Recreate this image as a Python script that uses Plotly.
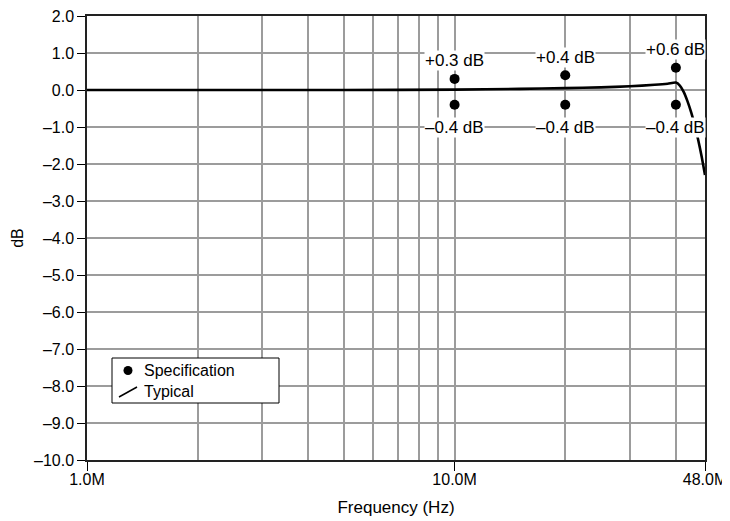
import math
import plotly.graph_objects as go

# Typical response curve (frequency in Hz, level in dB)
curve_freq = [1e6, 2e6, 5e6, 10e6, 15e6, 20e6, 25e6, 30e6, 35e6, 38e6, 40e6,
              41e6, 42e6, 43e6, 44e6, 45e6, 46e6, 47e6, 48e6]
curve_db = [0.0, 0.0, 0.0, 0.01, 0.03, 0.05, 0.07, 0.1, 0.14, 0.17, 0.2,
            0.12, -0.05, -0.3, -0.6, -0.95, -1.35, -1.8, -2.3]

# Specification limits
spec_freq = [10e6, 20e6, 40e6]
spec_upper = [0.3, 0.4, 0.6]
spec_lower = [-0.4, -0.4, -0.4]
upper_labels = ["+0.3 dB", "+0.4 dB", "+0.6 dB"]
lower_labels = ["–0.4 dB", "–0.4 dB", "–0.4 dB"]

x_tickvals = [1e6, 10e6, 48e6]
x_ticktext = ["1.0M", "10.0M", "48.0M"]
x_gridvals = [2e6, 3e6, 4e6, 5e6, 6e6, 7e6, 8e6, 9e6, 20e6, 30e6, 40e6]
y_tickvals = [2, 1, 0, -1, -2, -3, -4, -5, -6, -7, -8, -9, -10]
y_ticktext = ["2.0", "1.0", "0.0", "–1.0", "–2.0", "–3.0", "–4.0", "–5.0",
              "–6.0", "–7.0", "–8.0", "–9.0", "–10.0"]
legend_names = ["Specification", "Typical"]

FONT = "Liberation Sans, Arial, Helvetica, sans-serif"
FS = 16
FS_TXT = 17
GRID = "#9c9c9c"

fig = go.Figure()
fig.add_trace(go.Scatter(
    x=spec_freq + spec_freq, y=spec_upper + spec_lower, mode="markers",
    marker=dict(color="black", size=10), name=legend_names[0]))
fig.add_trace(go.Scatter(
    x=curve_freq, y=curve_db, mode="lines",
    line=dict(color="black", width=2.6, shape="spline", smoothing=0.6),
    name=legend_names[1]))

for f, v, t in zip(spec_freq, spec_upper, upper_labels):
    fig.add_annotation(x=math.log10(f), y=v, text=t, showarrow=False, yshift=18,
                       xref="x", yref="y", bgcolor="white", borderpad=0,
                       font=dict(size=FS_TXT, color="black", family=FONT))
for f, v, t in zip(spec_freq, spec_lower, lower_labels):
    fig.add_annotation(x=math.log10(f), y=v, text=t, showarrow=False, yshift=-23,
                       xref="x", yref="y", bgcolor="white", borderpad=0,
                       font=dict(size=FS_TXT, color="black", family=FONT))

# Hand-drawn legend box (paper coordinates of the plot area)
def px(xp):
    return (xp - 87) / 618.0

def py(yp):
    return (460 - yp) / 444.0

fig.add_shape(type="rect", xref="paper", yref="paper",
              x0=px(112), x1=px(279), y0=py(403), y1=py(358),
              line=dict(color="black", width=1), fillcolor="white", layer="above")
fig.add_shape(type="circle", xref="paper", yref="paper",
              x0=px(123.5), x1=px(132.5), y0=py(375), y1=py(366),
              line=dict(color="black", width=0), fillcolor="black", layer="above")
fig.add_shape(type="line", xref="paper", yref="paper",
              x0=px(119), x1=px(137), y0=py(397), y1=py(387),
              line=dict(color="black", width=1.5), layer="above")
fig.add_annotation(xref="paper", yref="paper", x=px(142), y=py(370.5),
                   xanchor="left", yanchor="middle", text=legend_names[0],
                   showarrow=False, font=dict(size=FS, family=FONT, color="black"))
fig.add_annotation(xref="paper", yref="paper", x=px(142), y=py(391.5),
                   xanchor="left", yanchor="middle", text=legend_names[1],
                   showarrow=False, font=dict(size=FS, family=FONT, color="black"))

fig.update_layout(
    width=730, height=521,
    margin=dict(l=79, r=33, t=8, b=69),
    paper_bgcolor="white", plot_bgcolor="white",
    font=dict(family=FONT, size=FS, color="black"),
    showlegend=False,
    xaxis=dict(type="log", range=[6, math.log10(48e6)], tickvals=x_tickvals,
               ticktext=x_ticktext, ticks="outside", ticklen=9,
               tickcolor="black", showline=True, linecolor="#222222",
               linewidth=1.5, mirror=True, showgrid=True, gridcolor=GRID,
               gridwidth=1.5, zeroline=False, automargin=False,
               ticklabeloverflow="allow", ticklabelstandoff=-5,
               minor=dict(tickmode="array", tickvals=x_gridvals, showgrid=True,
                          gridcolor=GRID, gridwidth=1.5, ticks=""),
               title=dict(text="Frequency (Hz)", font=dict(size=FS_TXT), standoff=14),
               tickfont=dict(size=FS)),
    yaxis=dict(range=[-10, 2], tickvals=y_tickvals, ticktext=y_ticktext,
               ticks="outside", ticklen=8, tickcolor="black",
               showline=True, linecolor="#222222", linewidth=1.5, mirror=True,
               showgrid=True, gridcolor=GRID, gridwidth=1.5, zeroline=False,
               automargin=False, ticklabeloverflow="allow",
               title=dict(text="dB", font=dict(size=FS), standoff=6),
               tickfont=dict(size=FS)),
)

fig.write_html("out.html")
